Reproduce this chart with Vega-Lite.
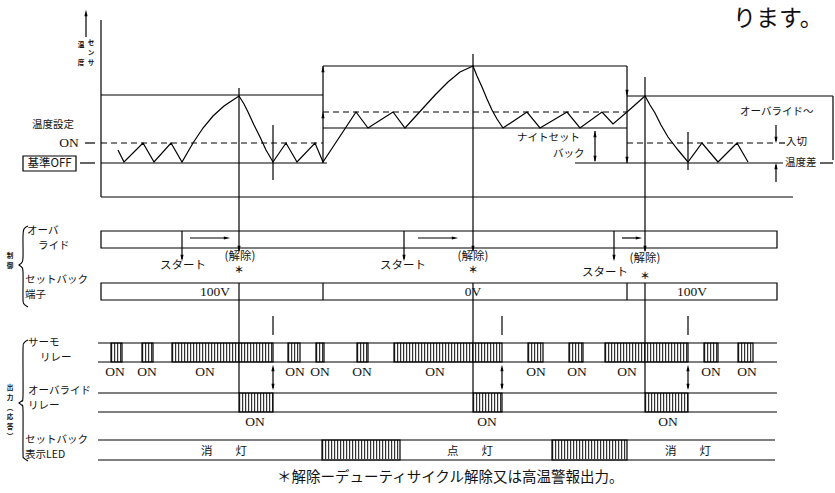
{
  "$schema": "https://vega.github.io/schema/vega-lite/v6.json",
  "width": 835,
  "height": 493,
  "padding": 0,
  "autosize": {"type": "none"},
  "background": "white",
  "config": {"view": {"stroke": null}},
  "datasets": {
    "segs": [
      {"x": 101, "y": 20, "x2": 101, "y2": 197},
      {"x": 101, "y": 197, "x2": 793, "y2": 197},
      {"x": 86, "y": 14, "x2": 86, "y2": 37},
      {"x": 101, "y": 95, "x2": 323, "y2": 95},
      {"x": 323, "y": 66, "x2": 323, "y2": 163},
      {"x": 323, "y": 66, "x2": 627, "y2": 66},
      {"x": 627, "y": 66, "x2": 627, "y2": 163},
      {"x": 627, "y": 96, "x2": 833, "y2": 96},
      {"x": 833, "y": 96, "x2": 833, "y2": 160},
      {"x": 323, "y": 128, "x2": 627, "y2": 128},
      {"x": 80, "y": 163, "x2": 95, "y2": 163},
      {"x": 101, "y": 163, "x2": 327, "y2": 163},
      {"x": 85, "y": 143, "x2": 95, "y2": 143},
      {"x": 575, "y": 163, "x2": 783, "y2": 163},
      {"x": 820, "y": 163, "x2": 833, "y2": 163},
      {"x": 779, "y": 143, "x2": 785, "y2": 143},
      {"x": 595, "y": 131, "x2": 595, "y2": 161},
      {"x": 776, "y": 125, "x2": 776, "y2": 141},
      {"x": 776, "y": 165, "x2": 776, "y2": 182},
      {"x": 273, "y": 125, "x2": 273, "y2": 180},
      {"x": 688, "y": 132, "x2": 688, "y2": 170},
      {"x": 239, "y": 88, "x2": 239, "y2": 251},
      {"x": 239, "y": 283, "x2": 239, "y2": 393},
      {"x": 473, "y": 54, "x2": 473, "y2": 251},
      {"x": 473, "y": 283, "x2": 473, "y2": 393},
      {"x": 645, "y": 77, "x2": 645, "y2": 251},
      {"x": 645, "y": 283, "x2": 645, "y2": 393},
      {"x": 182, "y": 231, "x2": 182, "y2": 248},
      {"x": 404, "y": 231, "x2": 404, "y2": 248},
      {"x": 614, "y": 231, "x2": 614, "y2": 248},
      {"x": 182, "y": 248, "x2": 182, "y2": 259},
      {"x": 404, "y": 248, "x2": 404, "y2": 259},
      {"x": 614, "y": 248, "x2": 614, "y2": 259},
      {"x": 190, "y": 238, "x2": 226, "y2": 238},
      {"x": 418, "y": 238, "x2": 454, "y2": 238},
      {"x": 622, "y": 238, "x2": 638, "y2": 238},
      {"x": 323, "y": 283, "x2": 323, "y2": 300},
      {"x": 627, "y": 283, "x2": 627, "y2": 300},
      {"x": 98, "y": 343, "x2": 777, "y2": 343},
      {"x": 98, "y": 362, "x2": 777, "y2": 362},
      {"x": 98, "y": 393, "x2": 777, "y2": 393},
      {"x": 98, "y": 412, "x2": 777, "y2": 412},
      {"x": 98, "y": 440, "x2": 775, "y2": 440},
      {"x": 98, "y": 460, "x2": 775, "y2": 460},
      {"x": 273, "y": 316, "x2": 273, "y2": 335},
      {"x": 502, "y": 316, "x2": 502, "y2": 335},
      {"x": 688, "y": 316, "x2": 688, "y2": 335},
      {"x": 273, "y": 368, "x2": 273, "y2": 388},
      {"x": 502, "y": 368, "x2": 502, "y2": 388},
      {"x": 688, "y": 368, "x2": 688, "y2": 388}
    ],
    "dashes": [
      {"x": 101, "y": 143, "x2": 323, "y2": 143},
      {"x": 323, "y": 112, "x2": 627, "y2": 112},
      {"x": 627, "y": 143, "x2": 773, "y2": 143}
    ],
    "boxes": [
      {"x": 101, "x2": 777, "y": 231, "y2": 248},
      {"x": 101, "x2": 777, "y": 283, "y2": 300},
      {"x": 23, "x2": 76, "y": 156, "y2": 171}
    ],
    "hatch": [
      {"x": 111, "x2": 122, "y": 343, "y2": 362},
      {"x": 142, "x2": 153, "y": 343, "y2": 362},
      {"x": 172, "x2": 273, "y": 343, "y2": 362},
      {"x": 288, "x2": 300, "y": 343, "y2": 362},
      {"x": 316, "x2": 324, "y": 343, "y2": 362},
      {"x": 357, "x2": 368, "y": 343, "y2": 362},
      {"x": 394, "x2": 502, "y": 343, "y2": 362},
      {"x": 528, "x2": 543, "y": 343, "y2": 362},
      {"x": 569, "x2": 583, "y": 343, "y2": 362},
      {"x": 605, "x2": 688, "y": 343, "y2": 362},
      {"x": 704, "x2": 718, "y": 343, "y2": 362},
      {"x": 738, "x2": 753, "y": 343, "y2": 362},
      {"x": 239, "x2": 273, "y": 393, "y2": 412},
      {"x": 473, "x2": 502, "y": 393, "y2": 412},
      {"x": 645, "x2": 688, "y": 393, "y2": 412},
      {"x": 322, "x2": 400, "y": 440, "y2": 460},
      {"x": 552, "x2": 627, "y": 440, "y2": 460}
    ],
    "arrows": [
      {"x": 86, "y": 13, "dir": "up"},
      {"x": 323, "y": 69, "dir": "up"},
      {"x": 323, "y": 115, "dir": "up"},
      {"x": 627, "y": 93, "dir": "down"},
      {"x": 627, "y": 160, "dir": "down"},
      {"x": 595, "y": 134, "dir": "up"},
      {"x": 595, "y": 159, "dir": "down"},
      {"x": 776, "y": 140, "dir": "down"},
      {"x": 776, "y": 166, "dir": "up"},
      {"x": 239, "y": 249, "dir": "down"},
      {"x": 473, "y": 249, "dir": "down"},
      {"x": 645, "y": 249, "dir": "down"},
      {"x": 182, "y": 258, "dir": "down"},
      {"x": 404, "y": 258, "dir": "down"},
      {"x": 614, "y": 258, "dir": "down"},
      {"x": 227, "y": 238, "dir": "right"},
      {"x": 455, "y": 238, "dir": "right"},
      {"x": 639, "y": 238, "dir": "right"},
      {"x": 273, "y": 368, "dir": "up"},
      {"x": 273, "y": 387, "dir": "down"},
      {"x": 502, "y": 368, "dir": "up"},
      {"x": 502, "y": 387, "dir": "down"},
      {"x": 688, "y": 368, "dir": "up"},
      {"x": 688, "y": 387, "dir": "down"}
    ],
    "curve": [
      {"x": 118, "y": 150}, {"x": 124, "y": 162}, {"x": 143, "y": 143}, {"x": 154, "y": 162},
      {"x": 171, "y": 143}, {"x": 182, "y": 162}, {"x": 193, "y": 143}, {"x": 203, "y": 128},
      {"x": 213, "y": 116}, {"x": 224, "y": 106}, {"x": 233, "y": 100}, {"x": 239, "y": 96},
      {"x": 244, "y": 104}, {"x": 248, "y": 112}, {"x": 254, "y": 125}, {"x": 260, "y": 137},
      {"x": 266, "y": 150}, {"x": 273, "y": 162}, {"x": 286, "y": 143}, {"x": 297, "y": 162},
      {"x": 315, "y": 143}, {"x": 323, "y": 162}, {"x": 356, "y": 112}, {"x": 368, "y": 128},
      {"x": 393, "y": 112}, {"x": 405, "y": 128}, {"x": 415, "y": 117}, {"x": 425, "y": 106},
      {"x": 436, "y": 94}, {"x": 448, "y": 82}, {"x": 460, "y": 72}, {"x": 473, "y": 66},
      {"x": 477, "y": 76}, {"x": 482, "y": 87}, {"x": 487, "y": 99}, {"x": 492, "y": 110},
      {"x": 497, "y": 119}, {"x": 503, "y": 128}, {"x": 527, "y": 112}, {"x": 540, "y": 128},
      {"x": 567, "y": 112}, {"x": 580, "y": 128}, {"x": 602, "y": 112}, {"x": 613, "y": 124},
      {"x": 627, "y": 112}, {"x": 636, "y": 104}, {"x": 645, "y": 96}, {"x": 650, "y": 105},
      {"x": 655, "y": 113}, {"x": 661, "y": 125}, {"x": 668, "y": 137}, {"x": 678, "y": 150},
      {"x": 688, "y": 162}, {"x": 702, "y": 143}, {"x": 718, "y": 162}, {"x": 737, "y": 143},
      {"x": 748, "y": 162}
    ],
    "braces": [
      {"id": "c", "i": 0, "x": 28, "y": 226}, {"id": "c", "i": 1, "x": 24, "y": 229},
      {"id": "c", "i": 2, "x": 23, "y": 236}, {"id": "c", "i": 3, "x": 23, "y": 258},
      {"id": "c", "i": 4, "x": 21.5, "y": 263}, {"id": "c", "i": 5, "x": 19, "y": 265},
      {"id": "c", "i": 6, "x": 21.5, "y": 267}, {"id": "c", "i": 7, "x": 23, "y": 272},
      {"id": "c", "i": 8, "x": 23, "y": 299}, {"id": "c", "i": 9, "x": 24, "y": 304},
      {"id": "c", "i": 10, "x": 28, "y": 307},
      {"id": "o", "i": 0, "x": 28, "y": 340}, {"id": "o", "i": 1, "x": 24, "y": 343},
      {"id": "o", "i": 2, "x": 23, "y": 350}, {"id": "o", "i": 3, "x": 23, "y": 396},
      {"id": "o", "i": 4, "x": 21.5, "y": 401}, {"id": "o", "i": 5, "x": 19, "y": 403},
      {"id": "o", "i": 6, "x": 21.5, "y": 405}, {"id": "o", "i": 7, "x": 23, "y": 410},
      {"id": "o", "i": 8, "x": 23, "y": 453}, {"id": "o", "i": 9, "x": 24, "y": 458},
      {"id": "o", "i": 10, "x": 28, "y": 461}
    ],
    "labels": [
      {"x": 32, "y": 125, "t": "温度設定"},
      {"x": 517, "y": 138, "t": "ナイトセット"},
      {"x": 553, "y": 153.5, "t": "バック"},
      {"x": 740, "y": 112, "t": "オーバライド〜"},
      {"x": 786, "y": 142, "t": "入切"},
      {"x": 785, "y": 163, "t": "温度差"},
      {"x": 27, "y": 231, "t": "オーバ"},
      {"x": 38, "y": 246.3, "t": "ライド"},
      {"x": 25, "y": 280, "t": "セットバック"},
      {"x": 25, "y": 295.3, "t": "端子"},
      {"x": 28, "y": 343, "t": "サーモ"},
      {"x": 40, "y": 358.3, "t": "リレー"},
      {"x": 28, "y": 391, "t": "オーバライド"},
      {"x": 28, "y": 406.3, "t": "リレー"},
      {"x": 25, "y": 440, "t": "セットバック"},
      {"x": 25, "y": 455.3, "t": "表示LED"}
    ],
    "clabels": [
      {"x": 49.5, "y": 164, "t": "基準OFF"},
      {"x": 183, "y": 266, "t": "スタート"},
      {"x": 403, "y": 266, "t": "スタート"},
      {"x": 605, "y": 273, "t": "スタート"},
      {"x": 240, "y": 257, "t": "(解除)"},
      {"x": 473, "y": 257, "t": "(解除)"},
      {"x": 645, "y": 259, "t": "(解除)"},
      {"x": 224, "y": 452, "t": "消　　灯"},
      {"x": 470, "y": 452, "t": "点　　灯"},
      {"x": 688, "y": 452, "t": "消　　灯"}
    ],
    "stars": [
      {"x": 239, "y": 270, "t": "＊"},
      {"x": 473, "y": 270, "t": "＊"},
      {"x": 645, "y": 276, "t": "＊"}
    ],
    "serif": [
      {"x": 69, "y": 143, "t": "ON"},
      {"x": 115, "y": 372, "t": "ON"}, {"x": 147, "y": 372, "t": "ON"}, {"x": 205, "y": 372, "t": "ON"},
      {"x": 295, "y": 372, "t": "ON"}, {"x": 320, "y": 372, "t": "ON"}, {"x": 362, "y": 372, "t": "ON"},
      {"x": 435, "y": 372, "t": "ON"}, {"x": 536, "y": 372, "t": "ON"}, {"x": 577, "y": 372, "t": "ON"},
      {"x": 627, "y": 372, "t": "ON"}, {"x": 711, "y": 372, "t": "ON"}, {"x": 747, "y": 372, "t": "ON"},
      {"x": 255, "y": 422, "t": "ON"}, {"x": 487, "y": 422, "t": "ON"}, {"x": 668, "y": 422, "t": "ON"},
      {"x": 215, "y": 292, "t": "100V"}, {"x": 473, "y": 292, "t": "0V"}, {"x": 692, "y": 292, "t": "100V"}
    ],
    "tiny": [
      {"x": 81, "y": 45, "t": "温"}, {"x": 81, "y": 63, "t": "度"},
      {"x": 91, "y": 43, "t": "セ"}, {"x": 91, "y": 53, "t": "ン"}, {"x": 91, "y": 63, "t": "サ"},
      {"x": 10, "y": 256, "t": "制"}, {"x": 10, "y": 266, "t": "御"},
      {"x": 10, "y": 388, "t": "出"}, {"x": 10, "y": 398, "t": "力"}, {"x": 10, "y": 407.5, "t": "︵"},
      {"x": 10, "y": 417, "t": "応"}, {"x": 10, "y": 427, "t": "答"}, {"x": 10, "y": 436.5, "t": "︶"}
    ],
    "notes": [
      {"x": 277, "y": 478, "t": "＊解除ーデューティサイクル解除又は高温警報出力。"}
    ],
    "head": [
      {"x": 733, "y": 19, "t": "ります。"}
    ]
  },
  "layer": [
    {
      "data": {"name": "hatch"},
      "mark": {"type": "rule", "strokeWidth": 19, "strokeDash": [1.2, 1.8], "yOffset": 9.5, "color": "#333333", "strokeCap": "butt"},
      "encoding": {
        "x": {"field": "x", "type": "quantitative", "scale": {"domain": [0, 835], "nice": false, "zero": false}, "axis": null},
        "x2": {"field": "x2"},
        "y": {"field": "y", "type": "quantitative", "scale": {"domain": [0, 493], "nice": false, "zero": false, "reverse": true}, "axis": null}
      }
    },
    {
      "data": {"name": "hatch"},
      "mark": {"type": "rect", "fillOpacity": 0, "stroke": "black", "strokeWidth": 1.2},
      "encoding": {
        "x": {"field": "x", "type": "quantitative"},
        "x2": {"field": "x2"},
        "y": {"field": "y", "type": "quantitative"},
        "y2": {"field": "y2"}
      }
    },
    {
      "data": {"name": "boxes"},
      "mark": {"type": "rect", "fillOpacity": 0, "stroke": "black", "strokeWidth": 1.2},
      "encoding": {
        "x": {"field": "x", "type": "quantitative"},
        "x2": {"field": "x2"},
        "y": {"field": "y", "type": "quantitative"},
        "y2": {"field": "y2"}
      }
    },
    {
      "data": {"name": "segs"},
      "mark": {"type": "rule", "strokeWidth": 1.2, "color": "black"},
      "encoding": {
        "x": {"field": "x", "type": "quantitative"},
        "x2": {"field": "x2"},
        "y": {"field": "y", "type": "quantitative"},
        "y2": {"field": "y2"}
      }
    },
    {
      "data": {"name": "dashes"},
      "mark": {"type": "rule", "strokeWidth": 1.2, "color": "black", "strokeDash": [6, 4]},
      "encoding": {
        "x": {"field": "x", "type": "quantitative"},
        "x2": {"field": "x2"},
        "y": {"field": "y", "type": "quantitative"},
        "y2": {"field": "y2"}
      }
    },
    {
      "data": {"name": "curve"},
      "mark": {"type": "line", "strokeWidth": 1.2, "color": "black"},
      "encoding": {
        "x": {"field": "x", "type": "quantitative"},
        "y": {"field": "y", "type": "quantitative"}
      }
    },
    {
      "data": {"name": "braces"},
      "mark": {"type": "line", "strokeWidth": 1.1, "color": "black", "interpolate": "cardinal"},
      "encoding": {
        "x": {"field": "x", "type": "quantitative"},
        "y": {"field": "y", "type": "quantitative"},
        "detail": {"field": "id"},
        "order": {"field": "i", "type": "quantitative"}
      }
    },
    {
      "data": {"name": "arrows"},
      "mark": {"type": "point", "filled": true, "size": 40, "color": "black", "opacity": 1},
      "encoding": {
        "x": {"field": "x", "type": "quantitative"},
        "y": {"field": "y", "type": "quantitative"},
        "shape": {"field": "dir", "type": "nominal", "legend": null,
          "scale": {"domain": ["up", "down", "right"], "range": ["M0,-1L0.5,1L-0.5,1Z", "M0,1L0.5,-1L-0.5,-1Z", "M1,0L-1,0.5L-1,-0.5Z"]}}
      }
    },
    {
      "data": {"name": "labels"},
      "mark": {"type": "text", "align": "left", "baseline": "middle", "font": "Noto Sans CJK JP", "fontSize": 10.5, "color": "#111111"},
      "encoding": {
        "x": {"field": "x", "type": "quantitative"},
        "y": {"field": "y", "type": "quantitative"},
        "text": {"field": "t"}
      }
    },
    {
      "data": {"name": "clabels"},
      "mark": {"type": "text", "align": "center", "baseline": "middle", "font": "Noto Sans CJK JP", "fontSize": 11.5, "color": "#111111"},
      "encoding": {
        "x": {"field": "x", "type": "quantitative"},
        "y": {"field": "y", "type": "quantitative"},
        "text": {"field": "t"}
      }
    },
    {
      "data": {"name": "stars"},
      "mark": {"type": "text", "align": "center", "baseline": "middle", "font": "Noto Sans CJK JP", "fontSize": 9.5, "fontWeight": "bold", "color": "#111111"},
      "encoding": {
        "x": {"field": "x", "type": "quantitative"},
        "y": {"field": "y", "type": "quantitative"},
        "text": {"field": "t"}
      }
    },
    {
      "data": {"name": "serif"},
      "mark": {"type": "text", "align": "center", "baseline": "middle", "font": "Liberation Serif", "fontSize": 13.5, "color": "#111111"},
      "encoding": {
        "x": {"field": "x", "type": "quantitative"},
        "y": {"field": "y", "type": "quantitative"},
        "text": {"field": "t"}
      }
    },
    {
      "data": {"name": "tiny"},
      "mark": {"type": "text", "align": "center", "baseline": "middle", "font": "Noto Sans CJK JP", "fontSize": 6.6, "fontWeight": "bold", "color": "#111111"},
      "encoding": {
        "x": {"field": "x", "type": "quantitative"},
        "y": {"field": "y", "type": "quantitative"},
        "text": {"field": "t"}
      }
    },
    {
      "data": {"name": "notes"},
      "mark": {"type": "text", "align": "left", "baseline": "middle", "font": "Noto Sans CJK JP", "fontSize": 14.5, "color": "#111111"},
      "encoding": {
        "x": {"field": "x", "type": "quantitative"},
        "y": {"field": "y", "type": "quantitative"},
        "text": {"field": "t"}
      }
    },
    {
      "data": {"name": "head"},
      "mark": {"type": "text", "align": "left", "baseline": "middle", "font": "Noto Sans CJK JP", "fontSize": 23, "color": "#111111"},
      "encoding": {
        "x": {"field": "x", "type": "quantitative"},
        "y": {"field": "y", "type": "quantitative"},
        "text": {"field": "t"}
      }
    }
  ]
}
